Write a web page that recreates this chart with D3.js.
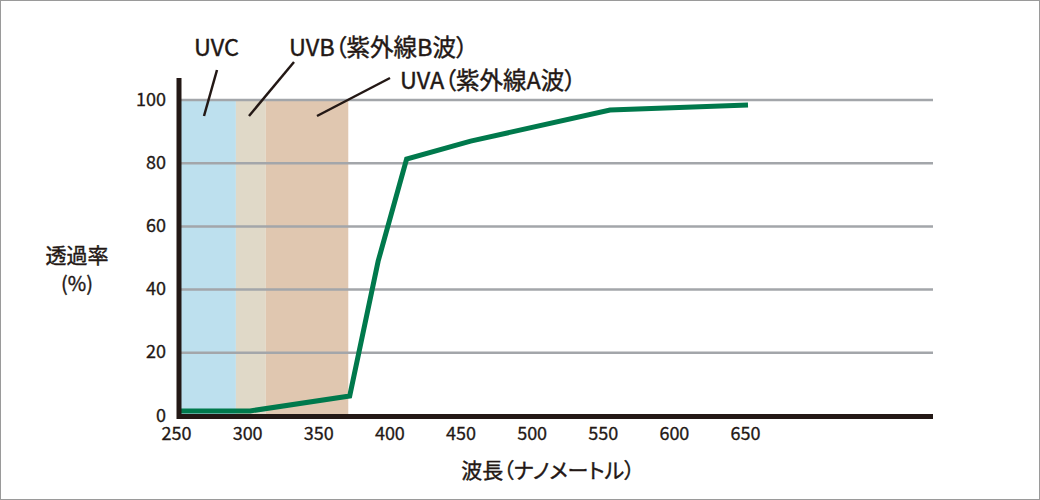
<!DOCTYPE html>
<html><head><meta charset="utf-8">
<script src="https://cdn.jsdelivr.net/npm/d3@7"></script>
<style>html,body{margin:0;padding:0;background:#fff;}svg{display:block;font-family:"Noto Sans CJK JP","Noto Sans",sans-serif;}
text{font-feature-settings:"palt";}</style>
</head><body>
<svg id="c" width="1040" height="500"></svg>
<script>
const wavelengths = [250, 300, 370, 390, 410, 455, 553, 650];
const transmittance = [1.6, 1.6, 6.3, 49, 81.3, 87, 96.8, 98.4];
const xTicks = [250, 300, 350, 400, 450, 500, 550, 600, 650];
const yTicks = [0, 20, 40, 60, 80, 100];
const bandNames = ["UVC", "UVB（紫外線B波）", "UVA（紫外線A波）"];
const bandStart = [250, 290, 311];
const bandEnd = [290, 311, 369];
const bandColors = ["#bde0ee", "#e0d9c8", "#e0c7b0"];

const svg = d3.select("#c");
svg.append("rect").attr("x",0.5).attr("y",0.5).attr("width",1039).attr("height",499)
  .attr("fill","#fff").attr("stroke","#9a9a9a").attr("stroke-width",1);

const x = d3.scaleLinear().domain([250,650]).range([179,748]);
const y = d3.scaleLinear().domain([0,100]).range([416,100]);
const xEnd = 933;
const ink = "#231815";

svg.selectAll("rect.band").data(bandStart).enter().append("rect")
  .attr("x",(d)=>x(d)).attr("y",y(100))
  .attr("width",(d,i)=>x(bandEnd[i])-x(d)).attr("height",y(0)-y(100))
  .attr("fill",(d,i)=>bandColors[i]);

svg.selectAll("line.grid").data(yTicks.filter(d=>d>0)).enter().append("line")
  .attr("x1",x(250)).attr("x2",xEnd).attr("y1",d=>y(d)).attr("y2",d=>y(d))
  .attr("stroke","#a3a6aa").attr("stroke-width",2.5);

const yAxis = d3.axisLeft(y).tickValues(yTicks).tickSize(0).tickPadding(13);
const gy = svg.append("g").attr("transform",`translate(${x(250)},0)`).call(yAxis);
gy.select(".domain").remove();
gy.selectAll("text").attr("font-size",18).attr("fill",ink).attr("stroke",ink).attr("stroke-width",0.3)
  .attr("font-family","'Noto Sans CJK JP',sans-serif").attr("dy","0.28em");

const xAxis = d3.axisBottom(x).tickValues(xTicks).tickSize(0).tickPadding(11);
const gx = svg.append("g").attr("transform",`translate(0,${y(0)})`).call(xAxis);
gx.select(".domain").remove();
gx.selectAll("text").attr("font-size",18).attr("fill",ink).attr("stroke",ink).attr("stroke-width",0.3)
  .attr("font-family","'Noto Sans CJK JP',sans-serif").attr("dx",-3);

const line = d3.line().x((d)=>x(d)).y((d,i)=>y(transmittance[i]));
svg.append("path").datum(wavelengths).attr("d",line)
  .attr("fill","none").attr("stroke","#00794c").attr("stroke-width",5).attr("stroke-linejoin","miter");

svg.append("line").attr("x1",x(250)).attr("x2",xEnd).attr("y1",y(0)+0.5).attr("y2",y(0)+0.5)
  .attr("stroke",ink).attr("stroke-width",5);
svg.append("line").attr("x1",x(250)).attr("x2",x(250)).attr("y1",78).attr("y2",y(0)+3)
  .attr("stroke",ink).attr("stroke-width",5);

const ann = [
  {t:bandNames[0], tx:194, ty:56, l:[217,70,204,116]},
  {t:bandNames[1], tx:289, ty:56, l:[294,62,249,116]},
  {t:bandNames[2], tx:400, ty:89, l:[390,78,317,116]}
];
ann.forEach(a=>{
  svg.append("line").attr("x1",a.l[0]).attr("y1",a.l[1]).attr("x2",a.l[2]).attr("y2",a.l[3])
    .attr("stroke",ink).attr("stroke-width",2.5);
  svg.append("text").attr("x",a.tx).attr("y",a.ty).attr("font-size",23.5)
    .attr("fill",ink).attr("stroke",ink).attr("stroke-width",0.4).text(a.t);
});

svg.append("text").attr("x",77).attr("y",263).attr("text-anchor","middle").attr("font-size",21).attr("fill",ink).attr("stroke",ink).attr("stroke-width",0.4).text("透過率");
svg.append("text").attr("x",77).attr("y",291).attr("text-anchor","middle").attr("font-size",20).attr("fill",ink).attr("stroke",ink).attr("stroke-width",0.4).text("(%)");
svg.append("text").attr("x",548).attr("y",478).attr("text-anchor","middle").attr("font-size",21).attr("fill",ink).attr("stroke",ink).attr("stroke-width",0.4).text("波長（ナノメートル）");
</script>
</body></html>
